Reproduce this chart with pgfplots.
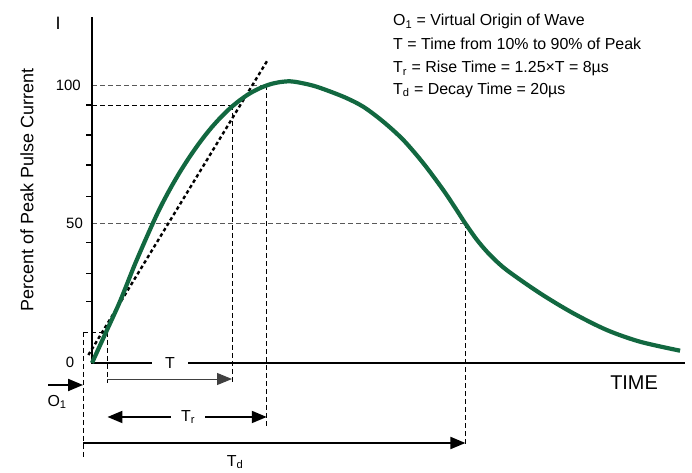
\documentclass[border=0pt]{standalone}
\usepackage{fontspec}
\setmainfont{Liberation Sans}
\usepackage{pgfplots}
\pgfplotsset{compat=1.18}
\usetikzlibrary{arrows.meta}

\definecolor{pulsegreen}{RGB}{18,104,64}

\begin{document}
\begin{tikzpicture}
\begin{axis}[
    scale only axis,
    width=692bp, height=470bp,
    xmin=-4.817, xmax=31.414,
    ymin=-38.49, ymax=130.58,
    hide axis,
    clip=false,
]
% keep the full canvas
\path (rel axis cs:0,0) rectangle (rel axis cs:1,1);

% guide lines
\tikzset{guide/.style={line width=0.9bp, dash pattern=on 5bp off 3bp}}
\draw[guide, black!65] (axis cs:0,100) -- (axis cs:9.15,100);
\draw[guide] (axis cs:0,92.81) -- (axis cs:7.33,92.81);
\draw[guide, black!65] (axis cs:0,50.25) -- (axis cs:19.55,50.25);
\draw[guide] (axis cs:-0.47,11.15) -- (axis cs:0.81,11.15);
\draw[guide] (axis cs:-0.47,11.15) -- (axis cs:-0.47,-33.8);
\draw[guide] (axis cs:0.81,11.15) -- (axis cs:0.81,-7.19);
\draw[guide] (axis cs:7.33,92.81) -- (axis cs:7.33,-7.19);
\draw[guide] (axis cs:9.15,100) -- (axis cs:9.15,-22.66);
\draw[guide] (axis cs:19.55,50.25) -- (axis cs:19.55,-29.5);

% axes
\draw[line width=2bp] (axis cs:0,124.46) -- (axis cs:0,0) -- (axis cs:31.05,0);
\pgfplotsinvokeforeach{92.81,82.0,71.2,60.0,43.3,32.3,22.1}{
    \draw[line width=1.2bp] (axis cs:-0.314,#1) -- (axis cs:0,#1);
}

% tangent through 10% and 90% points
\addplot[black, line width=2.4bp, dash pattern=on 3.5bp off 2.8bp]
    coordinates {(-0.19,2.88) (9.23,109.35)};

% pulse waveform
\addplot[pulsegreen, line width=4.2bp, smooth, tension=0.5]
    coordinates {
        (0,0) (0.733,11.08) (1.466,22.16) (2.251,35.58) (3.037,47.99)
        (3.560,55.72) (4.084,62.55) (4.607,68.74) (5.131,74.35) (5.654,79.46)
        (6.178,84.06) (6.702,88.09) (7.225,91.62) (7.749,94.57) (8.272,97.01)
        (8.796,98.88) (9.319,100.25) (9.843,101.04) (10.366,101.33)
        (10.89,100.83) (11.76,99.39) (13.16,95.79) (14.20,92.19) (15.25,86.80)
        (16.30,80.22) (17.35,71.83) (18.39,62.23) (19.09,55.04) (19.53,50.36)
        (20.16,44.24) (20.84,38.85) (21.71,33.45) (23.46,25.07) (25.20,17.88)
        (26.95,11.87) (28.69,7.66) (30.79,4.42)
    };

% arrows
\tikzset{head/.style={-{Triangle[length=15bp,width=12bp]}}}
\draw[head, line width=1bp, black!75] (axis cs:0.81,-5.76) -- (axis cs:7.33,-5.76);
\draw[{Triangle[length=15bp,width=12bp]}-{Triangle[length=15bp,width=12bp]}, line width=2bp]
    (axis cs:0.81,-19.42) -- (axis cs:9.15,-19.42);
\draw[head, line width=2bp] (axis cs:-0.47,-28.78) -- (axis cs:19.55,-28.78);
\draw[head, line width=2bp] (axis cs:-2.30,-7.91) -- (axis cs:-0.47,-7.91);

% labels
\node[fill=white, inner sep=0pt, minimum width=36bp, minimum height=14bp,
      font=\fontsize{16}{19}\selectfont] at (axis cs:4.08,0) {T};
\node[fill=white, inner sep=0pt, minimum width=34bp, minimum height=16bp,
      font=\fontsize{16}{19}\selectfont] at (axis cs:5.03,-19.42) {T\textsubscript{r}};
\node[font=\fontsize{16}{19}\selectfont] at (axis cs:7.49,-35.6) {T\textsubscript{d}};
\node[font=\fontsize{16}{19}\selectfont] at (axis cs:-1.83,-14.0) {O\textsubscript{1}};

\node[anchor=east, inner sep=0pt, font=\fontsize{15}{18}\selectfont] at (axis cs:-0.58,100) {100};
\node[anchor=east, inner sep=0pt, font=\fontsize{15}{18}\selectfont] at (axis cs:-0.47,50.25) {50};
\node[font=\fontsize{15}{18}\selectfont] at (axis cs:-1.15,0.3) {0};
\node[font=\fontsize{18}{21}\selectfont] at (axis cs:-1.78,122.3) {I};
\node[rotate=90, font=\fontsize{18}{21}\selectfont] at (axis cs:-3.4,62.2) {Percent of Peak Pulse Current};
\node[font=\fontsize{20}{24}\selectfont] at (axis cs:28.38,-7.0) {TIME};

% key
\node[anchor=west, inner sep=0pt, font=\fontsize{16}{19}\selectfont] at (axis cs:15.76,122.77) {O\textsubscript{1} = Virtual Origin of Wave};
\node[anchor=west, inner sep=0pt, font=\fontsize{16}{19}\selectfont] at (axis cs:15.76,114.75) {T = Time from 10\% to 90\% of Peak};
\node[anchor=west, inner sep=0pt, font=\fontsize{16}{19}\selectfont] at (axis cs:15.76,106.0) {T\textsubscript{r} = Rise Time = 1.25×T = 8µs};
\node[anchor=west, inner sep=0pt, font=\fontsize{16}{19}\selectfont] at (axis cs:15.76,98.2) {T\textsubscript{d} = Decay Time = 20µs};
\end{axis}
\end{tikzpicture}
\end{document}
